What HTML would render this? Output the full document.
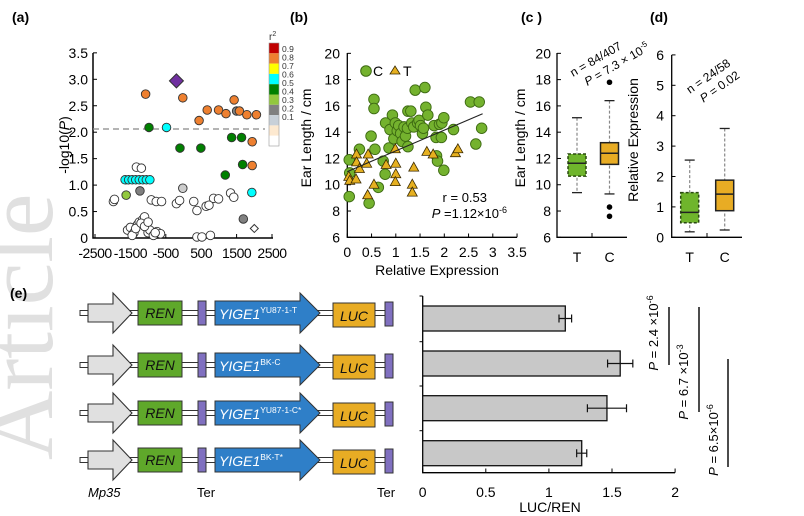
<!DOCTYPE html>
<html><head><meta charset="utf-8"><style>
html,body{margin:0;background:#fff;overflow:hidden;width:804px;height:516px;}
svg{display:block;font-family:"Liberation Sans",Arial,sans-serif;overflow:hidden;}
</style></head><body>
<svg id="fig" width="804" height="516" viewBox="0 0 804 516" xmlns="http://www.w3.org/2000/svg">
<text transform="translate(52,460) rotate(-90)" font-family="Liberation Serif, serif" font-size="96" fill="#e0e0e0">Article</text>
<g id="pa"></g>
<g id="pb"></g>
<g id="pc"></g>
<g id="pd"></g>
<g id="pe"></g>
<g id="pf"></g>
</svg>
<script>
// ---- Panel (a) data
const aX=[-200,-1070,-20,440,670,990,1200,1430,1500,1580,1790,2060,1940,1940,-975,-100,490,1360,1640,1180,1670,-480,1930,-1650,-1550,-1450,-1350,-1250,-1150,-1050,-950,-1620,-1230,1690,-1980,-1950,-1330,-1190,-20,-910,-770,-620,-200,-110,290,380,640,720,850,990,1330,1420,380,520,760,-1580,-1500,-1400,-1300,-1250,-1150,-1100,-1050,-1000,-950,-850,-750,-650,-1450,-1350,-1200,-1100,-1000,-800];
const aY=[2.97,2.72,2.65,2.22,2.42,2.42,2.35,2.61,2.40,2.40,2.33,2.33,1.82,1.37,2.09,1.70,1.70,1.90,1.90,1.19,1.39,2.09,0.86,1.10,1.10,1.10,1.10,1.10,1.10,1.10,1.10,0.81,0.89,0.36,0.69,0.73,1.34,1.32,0.94,0.72,0.69,0.69,0.65,0.71,0.69,0.52,0.60,0.62,0.75,0.74,0.85,0.77,0.02,0.02,0.05,0.15,0.20,0.10,0.25,0.30,0.35,0.40,0.20,0.10,0.15,0.05,0.12,0.08,0.05,0.18,0.28,0.22,0.30,0.10];
const aC=[9,8,8,8,8,8,8,8,3,8,8,8,8,8,5,5,5,5,5,5,5,6,6,6,6,6,6,6,6,6,6,4,3,3,0,0,0,0,2,0,0,0,0,0,0,0,0,0,0,0,0,0,0,0,0,0,0,0,0,0,0,0,0,0,0,0,0,0,0,0,0,0,0,0];
const aYTicks=[0,0.5,1.0,1.5,2.0,2.5,3.0,3.5];
const aXTicks=[-2500,-1500,-500,500,1500,2500];
const r2Labels=["0.9","0.8","0.7","0.6","0.5","0.4","0.3","0.2","0.1"];
const r2Colors=["#c00000","#ee8030","#ffff00","#00ffff","#008000","#92c83e","#808080","#c8d0d8","#fde9d0","#ffffff"];
const aThreshold=2.06;
// ---- Panel (b) data
const bCX=[0.04,0.05,0.04,0.25,0.45,0.49,0.55,0.55,0.57,0.64,0.74,0.78,0.79,0.86,0.88,0.93,0.96,0.99,1.03,1.06,1.10,1.13,1.17,1.20,1.24,1.25,1.31,1.33,1.25,1.37,1.40,1.45,1.48,1.51,1.55,1.60,1.62,1.66,1.57,1.79,1.83,1.84,1.86,1.90,1.94,1.95,1.99,1.99,2.19,2.54,2.72,2.65,2.77];
const bCY=[11.9,10.9,9.1,12.7,8.6,13.7,16.5,15.8,12.7,9.8,11.8,10.8,14.7,12.8,14.2,15.3,13.5,14.7,14.1,14.5,13.9,13.3,14.4,13.7,14.3,15.6,15.6,14.7,12.9,14.4,17.2,14.7,14.9,14.5,13.9,17.4,15.9,15.3,14.3,14.5,13.6,12.2,11.8,14.6,13.6,14.7,15.1,11.1,14.2,16.3,16.3,13.1,14.3];
const bTX=[0.03,0.05,0.19,0.19,0.18,0.25,0.40,0.43,0.42,0.55,0.80,0.99,1.00,1.00,0.99,1.37,1.34,1.34,1.64,1.77,2.23,2.28];
const bTY=[10.6,10.3,12.3,11.7,10.4,11.2,11.6,12.3,9.2,10.0,11.5,12.7,11.6,10.8,10.2,11.3,10.0,9.4,12.5,12.3,12.4,12.7];
const bFit=[[0,11.0],[2.79,15.4]];
const bXTicks=["0","0.5","1","1.5","2","2.5","3","3.5"];
const bYTicks=[6,8,10,12,14,16,18,20];
// ---- Panel (c) data: [whiskerLow, q1, median, q3, whiskerHigh]
const cGroups=["T","C"];
const cStats=[[9.4,10.66,11.64,12.34,15.1],[9.3,11.55,12.4,13.2,16.4]];
const cOutliers=[[],[17.8,8.3,7.6]];
// ---- Panel (d) data
const dGroups=["T","C"];
const dStats=[[0.18,0.48,0.82,1.47,2.54],[0.24,0.875,1.42,1.88,3.58]];
const dYTicks=[0,1,2,3,4,5,6];
// ---- Panel (e) data
const eLabels=["YU87-1-T","BK-C","YU87-1-C*","BK-T*"];
const eValues=[1.13,1.565,1.46,1.26];
const eErrors=[0.05,0.1,0.155,0.04];
const eXTicks=[0,0.5,1,1.5,2];

const NS="http://www.w3.org/2000/svg";
function mk(parent,tag,attrs,text){const e=document.createElementNS(NS,tag);for(const k in attrs)e.setAttribute(k,attrs[k]);if(text!==undefined)e.textContent=text;parent.appendChild(e);return e;}

// ================= Panel A
(function(){
const g=document.getElementById('pa');
const xS=v=>95+(v+2500)*0.0354, yS=v=>238-v*52.9;
let t=mk(g,'text',{x:12,y:22,'font-size':14,'font-weight':'bold'},'(a)');

let ax=mk(g,'path',{d:'M93,53 V238 H273',fill:'none',stroke:'#000','stroke-width':1.5});

aYTicks.forEach(v=>{const y=yS(v);mk(g,'line',{x1:93,x2:97,y1:y,y2:y,stroke:'#000'});
 const l=mk(g,'text',{x:88,y:y+5,'font-size':14,'text-anchor':'end'},v===0?'0':v.toFixed(1));
 });
aXTicks.forEach(v=>{const x=xS(v);mk(g,'line',{x1:x,x2:x,y1:238,y2:234,stroke:'#000'});
 const l=mk(g,'text',{x:x,y:258,'font-size':14,'text-anchor':'middle','letter-spacing':'-0.5'},String(v));
 });
const yl=mk(g,'text',{transform:'translate(69,145) rotate(-90)','font-size':14,'text-anchor':'middle'});
yl.innerHTML='-log10(<tspan font-style="italic">P</tspan>)';

const dl=mk(g,'line',{x1:93,x2:265,y1:yS(aThreshold),y2:yS(aThreshold),stroke:'#888','stroke-dasharray':'6,4','stroke-width':1.3});

const idx=aX.map((_,i)=>i).sort((a,b)=>(aC[a]>0)-(aC[b]>0));
idx.forEach(i=>{
 const c=aC[i];const x=xS(aX[i]),y=yS(aY[i]);
 let col=c===0?'#fff':r2Colors[9-c];
 if(c===2)col='#ccc';
 if(c===9){const d=mk(g,'path',{d:`M${x},${y-7}L${x+7},${y}L${x},${y+7}L${x-7},${y}Z`,fill:'#7030a0',stroke:'#333'});
  return;}
 const p=mk(g,'circle',{cx:x,cy:y,r:4.3,fill:col,stroke:'#333','stroke-width':0.9});
 
});
const od=mk(g,'path',{d:`M${xS(2000)},${yS(0.18)-4}l4,4l-4,4l-4,-4z`,fill:'#fff',stroke:'#333'});

const cb=mk(g,'g',{});
r2Colors.forEach((c,i)=>{mk(cb,'rect',{x:269,y:43+i*10.3,width:10,height:10.3,fill:c});});
mk(cb,'rect',{x:269,y:43,width:10,height:103,fill:'none',stroke:'#999','stroke-width':0.6});
r2Labels.forEach((l,i)=>{mk(cb,'text',{x:282,y:52+i*8.5,'font-size':8.5,fill:'#333'},l);});
const rt=mk(g,'text',{x:269,y:40,'font-size':10,fill:'#333'});rt.innerHTML='r<tspan dy="-4" font-size="7">2</tspan>';

})();

// ================= Panel B
(function(){
const g=document.getElementById('pb');
const xS=v=>347.3+v*48.5, yS=v=>237.3-(v-6)*13.14;
let t=mk(g,'text',{x:290,y:22,'font-size':14,'font-weight':'bold'},'(b)');

mk(g,'path',{d:'M347.3,53 V237.3 H517',fill:'none',stroke:'#000','stroke-width':1.3});
bYTicks.forEach(v=>{const y=yS(v);mk(g,'line',{x1:347.3,x2:351,y1:y,y2:y,stroke:'#000'});
 const l=mk(g,'text',{x:340,y:y+5,'font-size':14,'text-anchor':'end'},String(v));
 });
bXTicks.forEach((s,i)=>{const x=xS(i*0.5);mk(g,'line',{x1:x,x2:x,y1:237.3,y2:233.5,stroke:'#000'});
 const l=mk(g,'text',{x:x,y:257,'font-size':14,'text-anchor':'middle'},s);
 });
const yl=mk(g,'text',{transform:'translate(311,138) rotate(-90)','font-size':14,'text-anchor':'middle'},'Ear Length / cm');

const xl=mk(g,'text',{x:437,y:275,'font-size':14,'text-anchor':'middle'},'Relative Expression');

bCX.forEach((v,i)=>{const c=mk(g,'circle',{cx:xS(v),cy:yS(bCY[i]),r:5.3,fill:'#74b22e',stroke:'#3d6a12','stroke-width':0.9});
 });
bTX.forEach((v,i)=>{const x=xS(v),y=yS(bTY[i]);const p=mk(g,'path',{d:`M${x},${y-5.5}L${x+5},${y+3.5}L${x-5},${y+3.5}Z`,fill:'#e6b020',stroke:'#3a2a00','stroke-width':0.8});
 });
const fl=mk(g,'line',{x1:xS(bFit[0][0]),y1:yS(bFit[0][1]),x2:xS(bFit[1][0]),y2:yS(bFit[1][1]),stroke:'#222','stroke-width':1.1});

const lg=mk(g,'g',{});
mk(lg,'circle',{cx:366,cy:71,r:5.3,fill:'#74b22e',stroke:'#3d6a12'});
mk(lg,'text',{x:373,y:76,'font-size':14},'C');
mk(lg,'path',{d:'M395,66L400,74L390,74Z',fill:'#e6b020',stroke:'#3a2a00','stroke-width':0.8});
mk(lg,'text',{x:403,y:76,'font-size':14},'T');
const r=mk(g,'text',{x:487,y:202,'font-size':13,'text-anchor':'end'},'r = 0.53');

const p=mk(g,'text',{x:507,y:218,'font-size':13,'text-anchor':'end'});
p.innerHTML='<tspan font-style="italic">P</tspan> =1.12×10<tspan dy="-5" font-size="9">-6</tspan>';

})();

function boxPlot(g,xC,w,st,yS,fill,stroke,dashed,name){
 const bx=mk(g,'g',{});
 mk(bx,'line',{x1:xC,x2:xC,y1:yS(st[4]),y2:yS(st[0]),stroke:'#888','stroke-dasharray':'3,2','stroke-width':1.2});
 mk(bx,'line',{x1:xC-5,x2:xC+5,y1:yS(st[4]),y2:yS(st[4]),stroke:'#222','stroke-width':1.3});
 mk(bx,'line',{x1:xC-5,x2:xC+5,y1:yS(st[0]),y2:yS(st[0]),stroke:'#222','stroke-width':1.3});
 const a={x:xC-w/2,y:yS(st[3]),width:w,height:yS(st[1])-yS(st[3]),fill:fill,stroke:stroke,'stroke-width':1.5};
 if(dashed)a['stroke-dasharray']='3,2';
 mk(bx,'rect',a);
 mk(bx,'line',{x1:xC-w/2,x2:xC+w/2,y1:yS(st[2]),y2:yS(st[2]),stroke:'#222','stroke-width':1.5});
}

// ================= Panel C
(function(){
const g=document.getElementById('pc');
const yS=v=>237.3-(v-6)*13.14;const xs=[577,609.5];
let t=mk(g,'text',{x:521,y:22,'font-size':14,'font-weight':'bold'},'(c )');

mk(g,'path',{d:'M557,53 V237.3 H627',fill:'none',stroke:'#000','stroke-width':1.3});
bYTicks.forEach(v=>{const y=yS(v);mk(g,'line',{x1:557,x2:561,y1:y,y2:y,stroke:'#000'});
 const l=mk(g,'text',{x:551,y:y+5,'font-size':14,'text-anchor':'end'},String(v));
 });
const yl=mk(g,'text',{transform:'translate(525,138) rotate(-90)','font-size':14,'text-anchor':'middle'},'Ear Length / cm');

mk(g,'line',{x1:592,x2:592,y1:237.3,y2:233,stroke:'#000'});
cGroups.forEach((s,i)=>{const l=mk(g,'text',{x:xs[i],y:262,'font-size':14,'text-anchor':'middle'},s);
 
 boxPlot(g,xs[i],18,cStats[i],yS,i===0?'#6fb52c':'#e8ac24',i===0?'#2a4a10':'#222',i===0,'c-box-'+s);
 cOutliers[i].forEach(o=>{const c=mk(g,'circle',{cx:xs[i],cy:yS(o),r:2.8,fill:'#000'});
  });});
const an=mk(g,'text',{transform:'translate(573,77) rotate(-30)','font-size':12});
an.innerHTML='<tspan x="0" y="0">n = 84/407</tspan><tspan x="8" y="15"><tspan font-style="italic">P</tspan> = 7.3 × 10<tspan dy="-5" font-size="8">-5</tspan></tspan>';

})();

// ================= Panel D
(function(){
const g=document.getElementById('pd');
const yS=v=>237.3-v*30.4;const xs=[689.7,724.7];
let t=mk(g,'text',{x:650,y:22,'font-size':14,'font-weight':'bold'},'(d)');

mk(g,'path',{d:'M671.7,55 V237.3 H742',fill:'none',stroke:'#000','stroke-width':1.3});
dYTicks.forEach(v=>{const y=yS(v);mk(g,'line',{x1:671.7,x2:675.5,y1:y,y2:y,stroke:'#000'});
 const l=mk(g,'text',{x:664,y:y+5,'font-size':14,'text-anchor':'end'},String(v));
 });
const yl=mk(g,'text',{transform:'translate(638,140) rotate(-90)','font-size':14,'text-anchor':'middle'},'Relative Expression');

mk(g,'line',{x1:707,x2:707,y1:237.3,y2:233,stroke:'#000'});
dGroups.forEach((s,i)=>{const l=mk(g,'text',{x:xs[i],y:262,'font-size':14,'text-anchor':'middle'},s);
 
 boxPlot(g,xs[i],18,dStats[i],yS,i===0?'#6fb52c':'#e8ac24',i===0?'#2a4a10':'#222',i===0,'d-box-'+s);});
const an=mk(g,'text',{transform:'translate(690,94) rotate(-35)','font-size':12});
an.innerHTML='<tspan x="0" y="0">n = 24/58</tspan><tspan x="6" y="15"><tspan font-style="italic">P</tspan> = 0.02</tspan>';

})();

// ================= Panel E constructs
(function(){
const g=document.getElementById('pe');
let t=mk(g,'text',{x:10,y:298,'font-size':14,'font-weight':'bold'},'(e)');

const rows=[313,365,413,460];
rows.forEach((y,i)=>{
 const r=mk(g,'g',{});
 mk(r,'rect',{x:80,y:y-2.5,width:312,height:5,fill:'#fff',stroke:'#333','stroke-width':1});
 mk(r,'path',{d:`M88,${y-9}H113V${y-20}L132,${y}L113,${y+20}V${y+9}H88Z`,fill:'#e0e0e0',stroke:'#333','stroke-width':1.1});
 mk(r,'rect',{x:138,y:y-12,width:44,height:24,fill:'#5fa82a',stroke:'#333'});
 mk(r,'text',{x:160,y:y+5,'font-size':14,'font-style':'italic','text-anchor':'middle',fill:'#111'},'REN');
 mk(r,'rect',{x:198,y:y-12,width:8,height:24,fill:'#8070c0',stroke:'#333'});
 mk(r,'path',{d:`M215,${y-12}H300V${y-20}L320,${y}L300,${y+20}V${y+12}H215Z`,fill:'#2f7fc8',stroke:'#333'});
 const tx=mk(r,'text',{x:219,y:y+6,'font-size':14,'font-style':'italic',fill:'#fff'});
 tx.innerHTML='YIGE1<tspan dy="-6" font-size="8.5" font-style="normal">'+eLabels[i]+'</tspan>';
 mk(r,'rect',{x:333,y:y-10,width:42,height:24,fill:'#e8ac24',stroke:'#333'});
 mk(r,'text',{x:354,y:y+8,'font-size':14,'font-style':'italic','text-anchor':'middle',fill:'#111'},'LUC');
 mk(r,'rect',{x:385,y:y-11,width:8,height:24,fill:'#8070c0',stroke:'#333'});
});
mk(g,'text',{x:88,y:497,'font-size':13,'font-style':'italic'},'Mp35');
mk(g,'text',{x:197,y:497,'font-size':13},'Ter');
mk(g,'text',{x:377,y:497,'font-size':13},'Ter');
})();

// ================= Panel E bars
(function(){
const g=document.getElementById('pf');
const xS=v=>422.7+v*126.2;const bandTop=[306,351,395.7,440.7];const bh=25;
mk(g,'path',{d:'M422.7,296 V472.7 H675',fill:'none',stroke:'#000','stroke-width':1.3});
[296,341.7,386,430.7].forEach(y=>mk(g,'line',{x1:419.5,x2:422.7,y1:y,y2:y,stroke:'#000'}));
eXTicks.forEach(v=>{const x=xS(v);mk(g,'line',{x1:x,x2:x,y1:472.7,y2:468.5,stroke:'#000'});
 const l=mk(g,'text',{x:x,y:497,'font-size':14,'text-anchor':'middle'},String(v));
 });
const xl=mk(g,'text',{x:550,y:512,'font-size':14,'text-anchor':'middle'},'LUC/REN');

eValues.forEach((v,i)=>{const y=bandTop[i];
 const b=mk(g,'rect',{x:422.7,y:y,width:xS(v)-422.7,height:bh,fill:'#c8c8c8',stroke:'#111','stroke-width':1.3});
 
 const yc=y+bh/2,x1=xS(v-eErrors[i]),x2=xS(v+eErrors[i]);
 const e=mk(g,'path',{d:`M${x1},${yc}H${x2}M${x1},${yc-4}V${yc+4}M${x2},${yc-4}V${yc+4}`,stroke:'#111','stroke-width':1.2,fill:'none'});
 });
const ann=[[653,333,'2.4 ×10','-6',669,307,365],[683,382,'6.7 ×10','-3',699,307,412],[713,440,'6.5×10','-6',728,359,467]];
ann.forEach(a=>{const t=mk(g,'text',{transform:`translate(${a[0]+5},${a[1]}) rotate(-90)`,'font-size':13,'text-anchor':'middle'});
 t.innerHTML='<tspan font-style="italic">P</tspan> = '+a[2]+'<tspan dy="-5" font-size="9">'+a[3]+'</tspan>';
 
 mk(g,'line',{x1:a[4],x2:a[4],y1:a[5],y2:a[6],stroke:'#111','stroke-width':1.5});});
})();
</script>
</body></html>
